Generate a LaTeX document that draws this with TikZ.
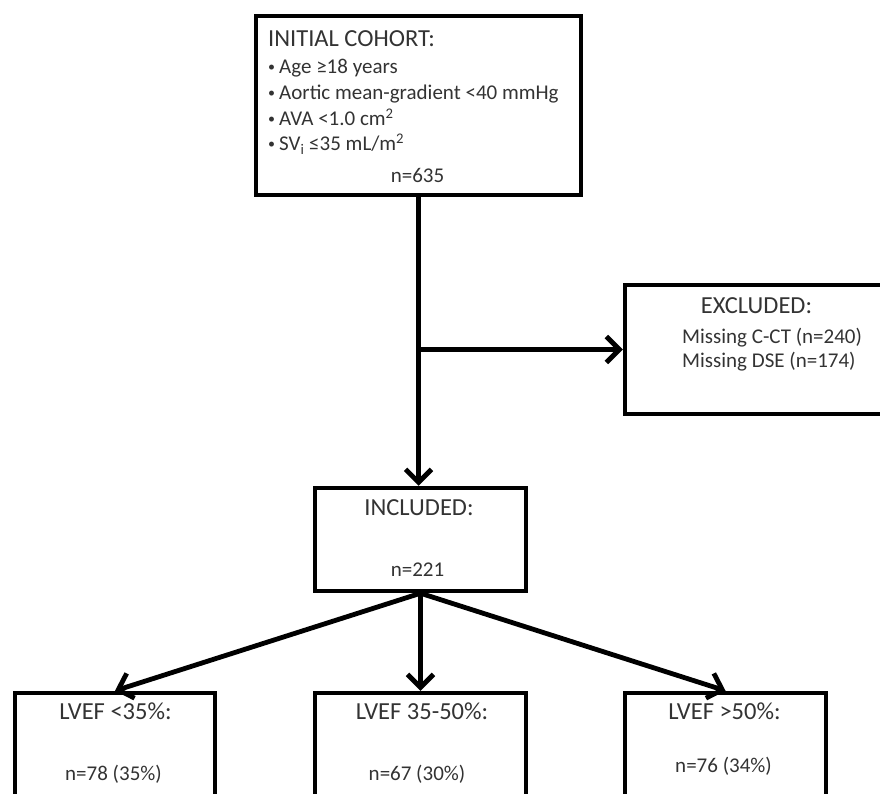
\documentclass[tikz,border=0pt]{standalone}
\usepackage{fontspec}
\setmainfont{Carlito}
\usetikzlibrary{arrows.meta}
\definecolor{txt}{HTML}{333333}
\begin{document}
\begin{tikzpicture}[x=1pt,y=-1pt,
  box/.style={draw=black, line width=4.5pt, inner sep=0pt},
  ttl/.style={font=\fontsize{24.5}{28}\selectfont, text=txt, inner sep=0pt, anchor=base},
  body/.style={font=\fontsize{21}{25}\selectfont, text=txt, inner sep=0pt, anchor=base},
  bul/.style={font=\fontsize{14}{16}\selectfont, text=txt, inner sep=0pt, anchor=base west},
  conn/.style={line width=4.8pt, -{Straight Barb[length=13pt,width=26pt]}},
  plain/.style={line width=4.5pt}]
\useasboundingbox (0,0) rectangle (880,794);
\clip (0,0) rectangle (880,794);

% boxes
\node[box, minimum width=325pt, minimum height=179pt] (top) at (418.5,105.5) {};
\node[box, minimum width=280pt, minimum height=129pt] (exc) at (765,349.5) {};
\node[box, minimum width=211pt, minimum height=103pt] (inc) at (420.5,539.5) {};
\node[box, minimum width=200pt, minimum height=140pt] (b1) at (115,763) {};
\node[box, minimum width=211pt, minimum height=140pt] (b2) at (420.5,763) {};
\node[box, minimum width=201pt, minimum height=140pt] (b3) at (725.5,763) {};

% top box text
\node[ttl, anchor=base west] (t0) at (268,47) {INITIAL COHORT:};
\node[bul] (u1) at (268,72) {•};
\node[body, anchor=base west] (t1) at (279,74) {Age ≥18 years};
\node[bul] (u2) at (268,98) {•};
\node[body, anchor=base west] (t2) at (279,100) {Aortic mean-gradient <40 mmHg};
\node[bul] (u3) at (268,124) {•};
\node[body, anchor=base west] (t3) at (279,126) {AVA <1.0 cm\textsuperscript{2}};
\node[bul] (u4) at (268,149) {•};
\node[body, anchor=base west] (t4) at (279,151) {SV\textsubscript{i} ≤35 mL/m\textsuperscript{2}};
\node[body] (t5) at (417.5,183) {n=635};

% excluded text
\node[ttl] (e0) at (756.5,313) {EXCLUDED:};
\node[body, anchor=base west] (e1) at (682,343) {Missing C-CT (n=240)};
\node[body, anchor=base west] (e2) at (682,367) {Missing DSE (n=174)};

% included text
\node[ttl] (i0) at (419,515) {INCLUDED:};
\node[body] (i1) at (417.5,576) {n=221};

% bottom texts
\node[ttl] (l0) at (115.5,719) {LVEF <35\%:};
\node[body] (l1) at (113.5,780) {n=78 (35\%)};
\node[ttl] (m0) at (422,719) {LVEF 35-50\%:};
\node[body] (m1) at (417,780) {n=67 (30\%)};
\node[ttl] (r0) at (724.5,719) {LVEF >50\%:};
\node[body] (r1) at (723.5,772) {n=76 (34\%)};

% connectors
\coordinate (br) at (top.south |- exc.west);
\draw[conn] (top.south) -- (top.south |- inc.north);
\draw[conn] (br) -- (exc.west);
\draw[conn] (inc.south) -- (b1.north);
\draw[conn] (inc.south) -- (b2.north);
\draw[conn] (inc.south) -- (b3.north);
\end{tikzpicture}
\end{document}
